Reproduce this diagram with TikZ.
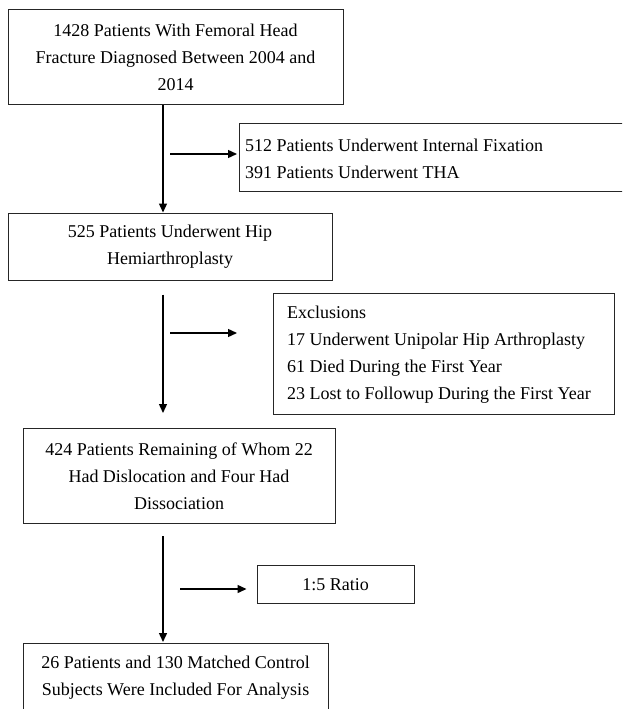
\documentclass[tikz,border=0pt]{standalone}
\usepackage{fontspec}
\setmainfont{Liberation Serif}
\usetikzlibrary{arrows.meta}
\begin{document}
\begin{tikzpicture}[x=1pt,y=-1pt,
  box/.style={draw=black!85, line width=1pt, inner sep=0pt, align=center,
    font=\fontsize{18}{27}\selectfont},
  txt/.style={inner sep=0pt, align=left, font=\fontsize{18}{27}\selectfont},
  conn/.style={line width=1.4pt, -{Triangle[length=9pt,width=8pt]}}]
\useasboundingbox (0,0) rectangle (622,709);
\clip (0,0) rectangle (622,709);

\node[box, minimum width=335pt, minimum height=95pt] (b1) at (175.5,57)
  {1428 Patients With Femoral Head\\Fracture Diagnosed Between 2004 and\\2014};
\node[box, minimum width=400pt, minimum height=68pt, anchor=north west] (bfix) at (239,123) {};
\node[txt, anchor=west] (tfix) at ([xshift=6pt,yshift=-1pt]bfix.west)
  {512 Patients Underwent Internal Fixation\\391 Patients Underwent THA};
\node[box, minimum width=324pt, minimum height=67pt] (b2) at (170,246.5)
  {525 Patients Underwent Hip\\Hemiarthroplasty};
\node[box, minimum width=341pt, minimum height=121pt, anchor=north west] (bexc) at (273,293) {};
\node[txt, anchor=west] (texc) at ([xshift=14pt,yshift=-1pt]bexc.west)
  {Exclusions\\17 Underwent Unipolar Hip Arthroplasty\\61 Died During the First Year\\23 Lost to Followup During the First Year};
\node[box, minimum width=312pt, minimum height=95pt] (b3) at (179,476)
  {424 Patients Remaining of Whom 22\\Had Dislocation and Four Had\\Dissociation};
\node[box, minimum width=157pt, minimum height=38pt] (bratio) at (335.5,584.5)
  {1:5 Ratio};
\node[box, minimum width=305pt, minimum height=69pt] (b4) at (175.5,678)
  {26 Patients and 130 Matched Control\\Subjects Were Included For Analysis};

\coordinate (v) at (163,0);
\coordinate (h1) at (170,154);
\coordinate (h2) at (170,333);
\coordinate (h3) at (180,589);

\draw[conn] (b1.south -| v) -- (b2.north -| v);
\draw[conn, shorten >=2pt] (h1) -- (h1 -| bfix.west);
\draw[conn, shorten <=14pt, shorten >=15pt] (b2.south -| v) -- (b3.north -| v);
\draw[conn, shorten >=36pt] (h2) -- (h2 -| bexc.west);
\draw[conn, shorten <=12pt, shorten >=1pt] (b3.south -| v) -- (b4.north -| v);
\draw[conn, shorten >=10pt] (h3) -- (h3 -| bratio.west);
\end{tikzpicture}
\end{document}
